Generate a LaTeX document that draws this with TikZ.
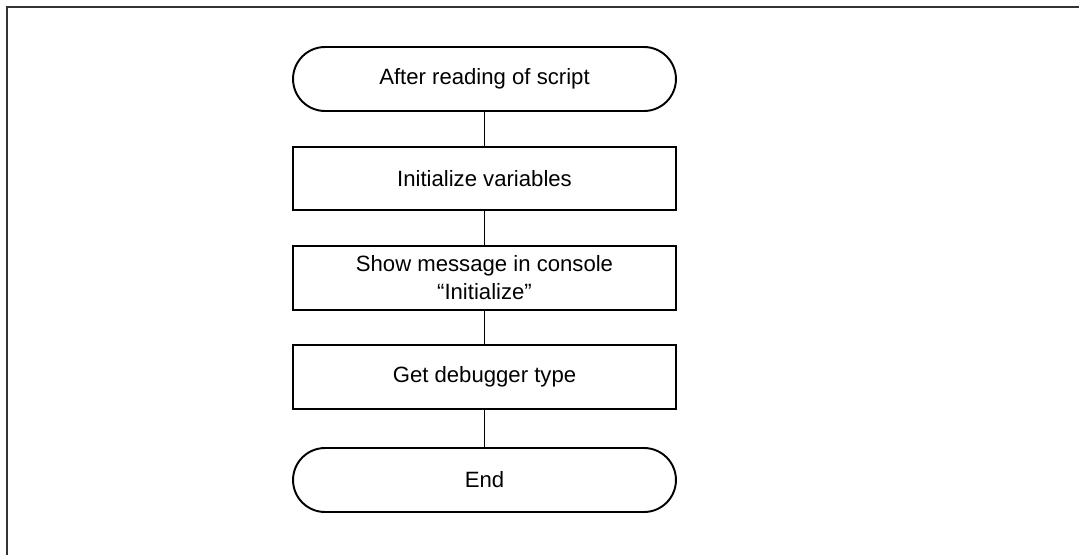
\documentclass[tikz,border=0pt]{standalone}
\usepackage{fontspec}
\setmainfont{Liberation Sans}
\usetikzlibrary{positioning}

\tikzset{
  terminal/.style={draw, line width=1.1pt, rounded corners=0.64cm,
    minimum width=7.66cm, minimum height=1.28cm, align=center},
  process/.style={draw, line width=1.1pt,
    minimum width=7.66cm, minimum height=1.27cm, align=center},
  flowline/.style={line width=0.8pt}
}

\begin{document}
\begin{tikzpicture}[x=0.02cm, y=-0.02cm, font=\fontsize{12.6}{16}\selectfont]
    \useasboundingbox (0,0) rectangle (1079,555);

    % Marco (solo arriba e izquierda)
    \draw[line width=0.9pt, black!80] (7,555) -- (7,7) -- (1079,7);

    % Bloques
    \node[terminal] (start) at (484.5,79) {After reading of script};
    \node[process] (initvars) at (484.5,178.5) {Initialize variables};
    \node[process] (showmsg) at (484.5,278) {Show message in console\\“Initialize”};
    \node[process] (gettype) at (484.5,377) {Get debugger type};
    \node[terminal] (finish) at (484.5,480) {End};

    % Conexiones
    \draw[flowline] (start) -- (initvars);
    \draw[flowline] (initvars) -- (showmsg);
    \draw[flowline] (showmsg) -- (gettype);
    \draw[flowline] (gettype) -- (finish);
\end{tikzpicture}
\end{document}
